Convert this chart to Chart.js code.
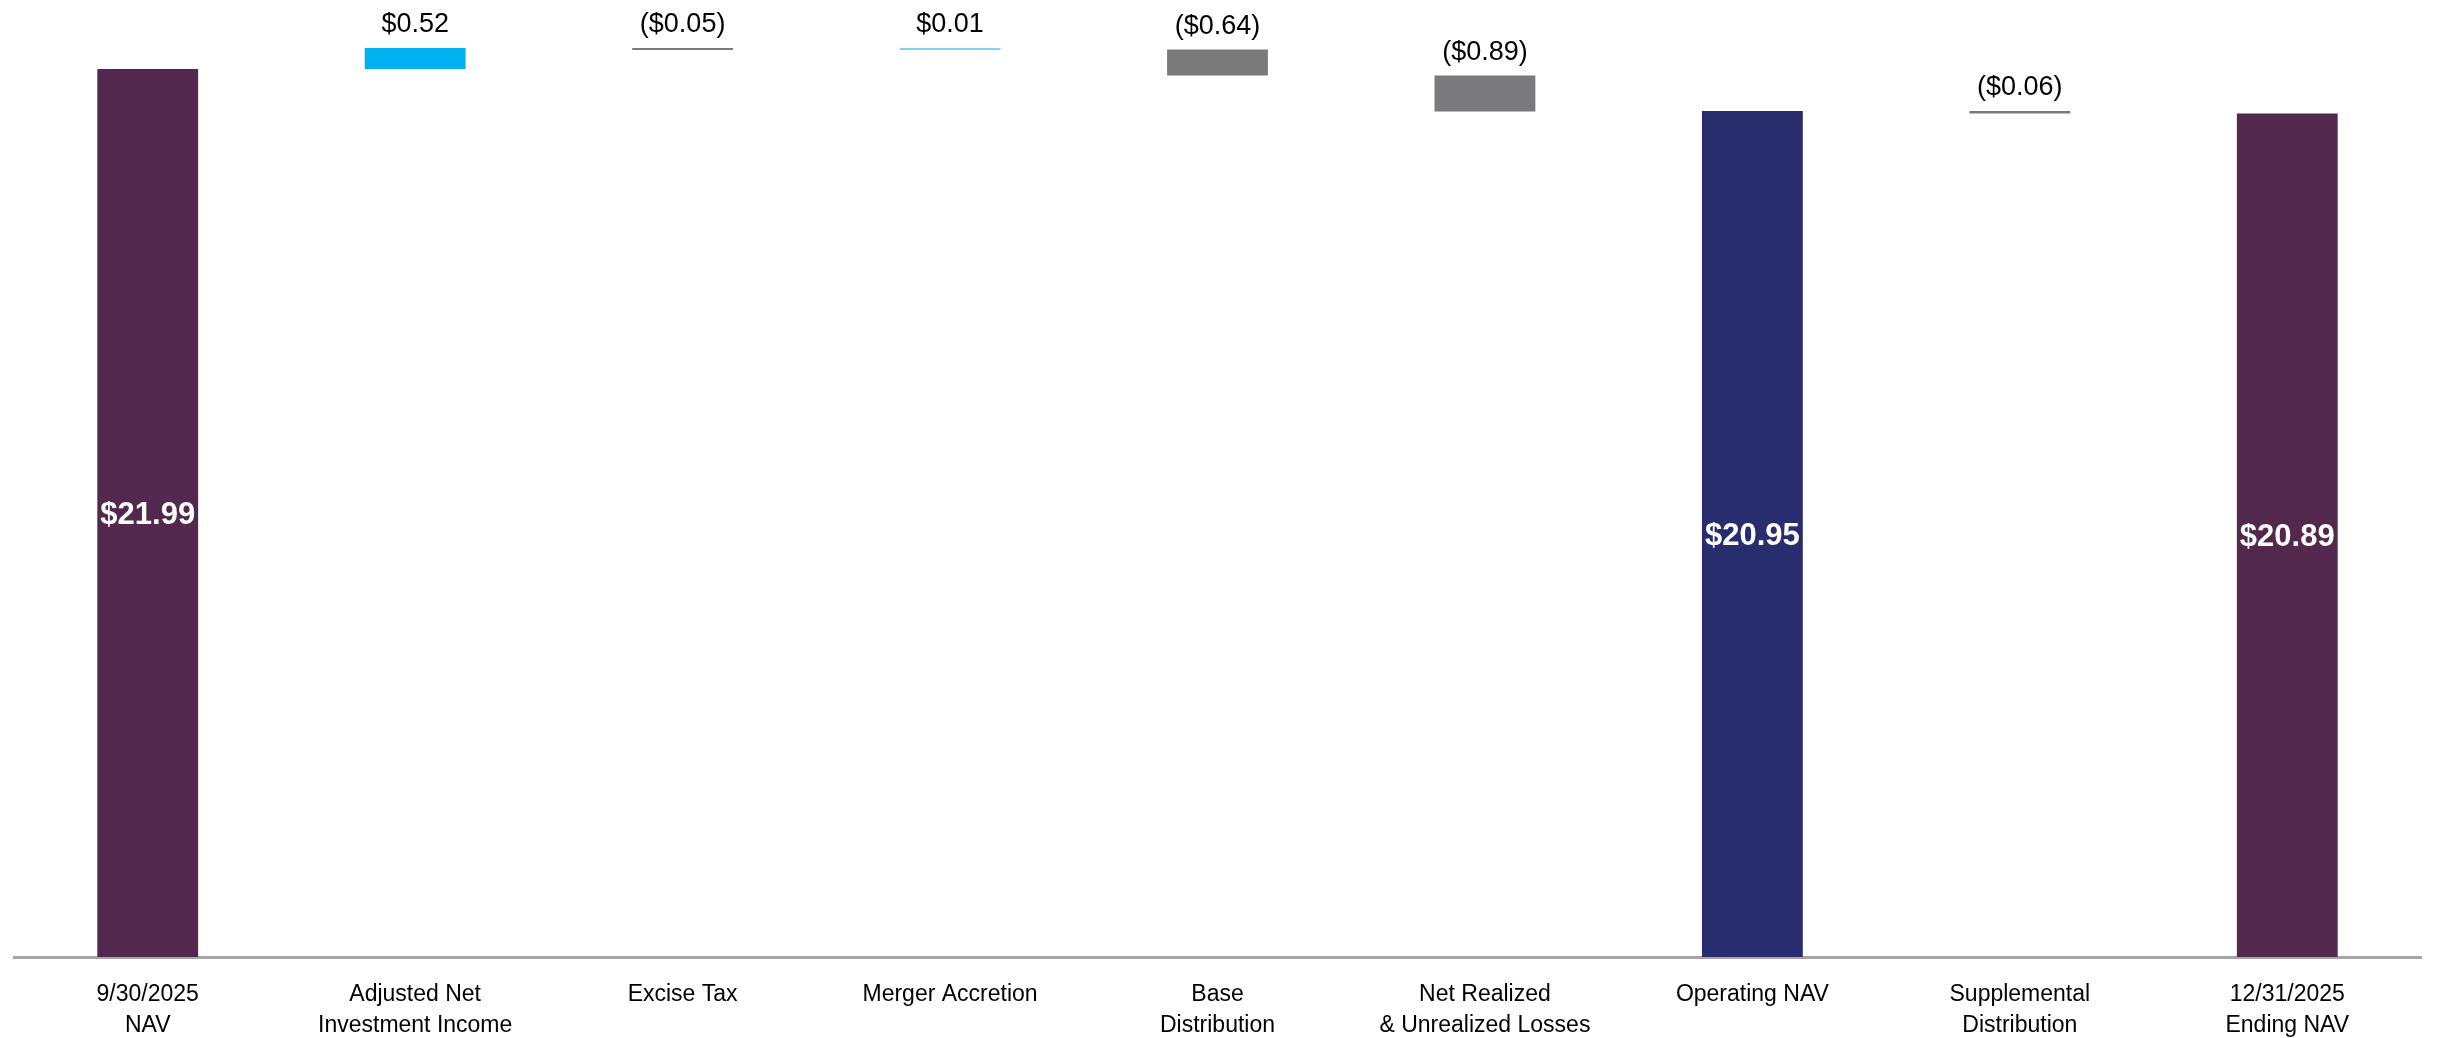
<!DOCTYPE html>
<html>
<head>
<meta charset="utf-8">
<script src="https://cdn.jsdelivr.net/npm/chart.js@4.4.1/dist/chart.umd.min.js"></script>
<style>
  html, body { margin: 0; padding: 0; background: #ffffff; }
  #wrap { width: 2440px; height: 1038px; position: relative; }
</style>
</head>
<body>
<div id="wrap"><canvas id="c"></canvas></div>
<script>
// ---- Data ----
const categories = [
  ["9/30/2025", "NAV"],
  ["Adjusted Net", "Investment Income"],
  ["Excise Tax"],
  ["Merger Accretion"],
  ["Base", "Distribution"],
  ["Net Realized", "& Unrealized Losses"],
  ["Operating NAV"],
  ["Supplemental", "Distribution"],
  ["12/31/2025", "Ending NAV"]
];
const stepValues = [21.99, 0.52, -0.05, 0.01, -0.64, -0.89, 20.95, -0.06, 20.89];
const isTotal = [true, false, false, false, false, false, true, false, true];
const valueLabels = ["$21.99", "$0.52", "($0.05)", "$0.01", "($0.64)", "($0.89)", "$20.95", "($0.06)", "$20.89"];

// ---- Styles ----
const barColors = ["#52284E", "#00B0F0", "#7A7A7C", "#7FD3F5", "#7A7A7C", "#7A7A7C", "#282D6E", "#7A7A7C", "#52284E"];

// Build floating ranges for the waterfall
const ranges = [];
let running = 0;
stepValues.forEach((v, i) => {
  if (isTotal[i]) { ranges.push([0, v]); running = v; }
  else {
    const a = running, b = running + v;
    ranges.push([Math.min(a, b), Math.max(a, b)]);
    running = b;
  }
});

const labelPlugin = {
  id: 'valueLabels',
  afterDatasetsDraw(chart) {
    const ctx = chart.ctx;
    const meta = chart.getDatasetMeta(0);
    meta.data.forEach((bar, i) => {
      ctx.save();
      ctx.textAlign = 'center';
      if (isTotal[i]) {
        ctx.font = 'bold 31px "Liberation Sans", Arial, sans-serif';
        ctx.fillStyle = '#ffffff';
        ctx.textBaseline = 'middle';
        ctx.fillText(valueLabels[i], bar.x, (bar.y + bar.base) / 2 + 2);
      } else {
        ctx.font = '27px "Liberation Sans", Arial, sans-serif';
        ctx.fillStyle = '#000000';
        ctx.textBaseline = 'middle';
        const top = Math.min(bar.y, bar.base);
        ctx.fillText(valueLabels[i], bar.x, top - 23);
      }
      ctx.restore();
    });
  }
};

new Chart(document.getElementById('c'), {
  type: 'bar',
  data: {
    labels: categories,
    datasets: [{
      data: ranges,
      backgroundColor: barColors,
      borderWidth: 0,
      barPercentage: 1,
      categoryPercentage: 0.377,
      minBarLength: 2
    }]
  },
  options: {
    responsive: true,
    maintainAspectRatio: false,
    devicePixelRatio: 1,
    animation: false,
    layout: { padding: { left: 14, right: 19, top: 8, bottom: 0 } },
    plugins: { legend: { display: false }, tooltip: { enabled: false } },
    scales: {
      x: {
        grid: { display: false, drawTicks: false },
        border: { display: true, color: '#A6A6A6', width: 3 },
        ticks: {
          color: '#000000',
          font: { family: '"Liberation Sans", Arial, sans-serif', size: 23, lineHeight: 1.36 },
          padding: 22,
          maxRotation: 0,
          autoSkip: false
        },
        afterFit(scale) { scale.height = 81; }
      },
      y: {
        display: false,
        min: 0,
        max: 23.5
      }
    }
  },
  plugins: [labelPlugin]
});
</script>
</body>
</html>
